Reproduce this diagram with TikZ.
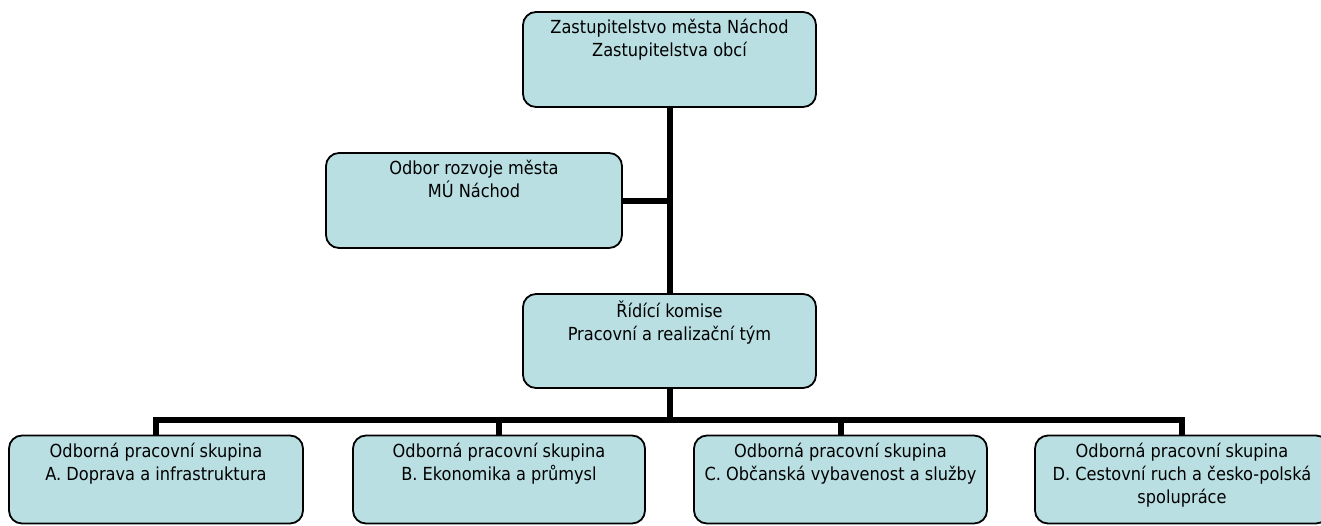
\documentclass[tikz,border=0pt]{standalone}
\usepackage{fontspec}
\setmainfont{DejaVu Sans Condensed}
\definecolor{boxfill}{HTML}{B9DFE3}
\begin{document}
\begin{tikzpicture}[x=1pt,y=-1pt,
  box/.style={draw=black, line width=1.8pt, fill=boxfill, rounded corners=13pt, minimum width=293pt, minimum height=95pt, inner sep=0pt},
  lbl/.style={align=center, anchor=north, inner sep=0pt, font=\fontsize{18}{23}\selectfont, execute at begin node=\strut},
  conn/.style={line width=6pt}]
\useasboundingbox (0,0) rectangle (1321,525);
% boxes
\node[box] (top) at (669.5,59.5) {};
\node[box, minimum width=296pt] (odbor) at (474,200.5) {};
\node[box, minimum height=94pt] (ric) at (669.5,341) {};
\node[box, minimum width=294pt, minimum height=88pt] (A) at (156,479.5) {};
\node[box, minimum width=292pt, minimum height=88pt] (B) at (499,479.5) {};
\node[box, minimum width=293pt, minimum height=88pt] (C) at (840.5,479.5) {};
\node[box, minimum width=294pt, minimum height=88pt] (D) at (1182,479.5) {};
% labels
\node[lbl] (topl) at ([yshift=-8pt]top.north) {Zastupitelstvo města Náchod\\Zastupitelstva obcí};
\node[lbl] (odborl) at ([yshift=-8pt]odbor.north) {Odbor rozvoje města\\MÚ Náchod};
\node[lbl] (ricl) at ([yshift=-8pt]ric.north) {Řídící komise\\Pracovní a realizační tým};
\node[lbl] (Al) at ([yshift=-8pt]A.north) {Odborná pracovní skupina\\A. Doprava a infrastruktura};
\node[lbl] (Bl) at ([yshift=-8pt]B.north) {Odborná pracovní skupina\\B. Ekonomika a průmysl};
\node[lbl] (Cl) at ([yshift=-8pt]C.north) {Odborná pracovní skupina\\C. Občanská vybavenost a služby};
\node[lbl] (Dl) at ([yshift=-8pt]D.north) {Odborná pracovní skupina\\D. Cestovní ruch a česko-polská\\spolupráce};
% connectors
\coordinate (bus) at (670,420);
\draw[conn] (top.south) -- (ric.north);
\draw[conn] (odbor.east) -- (odbor.east -| top.south);
\draw[conn] (ric.south) -- (ric.south |- bus);
\draw[conn] (A.north) -- (A.north |- bus) -- (D.north |- bus) -- (D.north);
\draw[conn] (B.north) -- (B.north |- bus);
\draw[conn] (C.north) -- (C.north |- bus);
\end{tikzpicture}
\end{document}
